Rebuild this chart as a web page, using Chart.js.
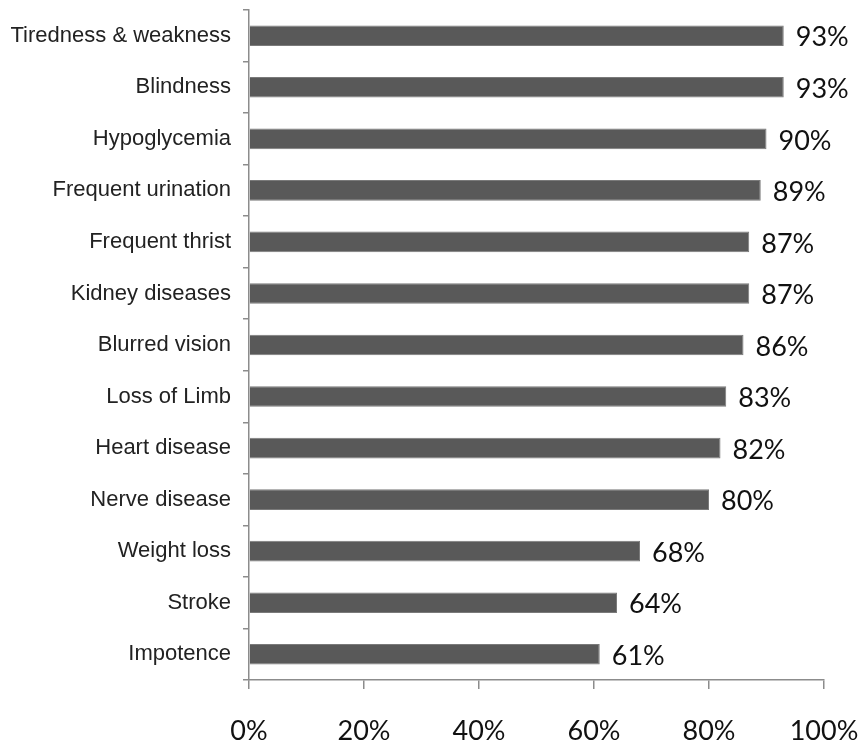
<!DOCTYPE html>
<html>
<head>
<meta charset="utf-8">
<script src="https://cdn.jsdelivr.net/npm/chart.js@4.4.0/dist/chart.umd.min.js"></script>
<style>
  html, body { margin: 0; padding: 0; background: #fff; }
  #wrap { width: 863px; height: 745px; }
</style>
</head>
<body>
<div id="wrap"><canvas id="chart"></canvas></div>
<script>
const categories = [
  "Tiredness & weakness", "Blindness", "Hypoglycemia", "Frequent urination",
  "Frequent thrist", "Kidney diseases", "Blurred vision", "Loss of Limb",
  "Heart disease", "Nerve disease", "Weight loss", "Stroke", "Impotence"
];
const percents = [93, 93, 90, 89, 87, 87, 86, 83, 82, 80, 68, 64, 61];
const xTicks = [0, 20, 40, 60, 80, 100];

// draw the value labels at the bar ends
const valueLabels = {
  id: "valueLabels",
  afterDatasetsDraw(chart) {
    const ctx = chart.ctx;
    const meta = chart.getDatasetMeta(0);
    ctx.save();
    ctx.font = "27px Lato, 'Open Sans', sans-serif";
    ctx.fillStyle = "#111";
    ctx.textBaseline = "middle";
    meta.data.forEach((bar, i) => {
      ctx.fillText(percents[i] + "%", bar.x + 12, bar.y + 2);
    });
    ctx.restore();
  }
};

new Chart(document.getElementById("chart"), {
  type: "bar",
  data: {
    labels: categories,
    datasets: [{
      data: percents,
      backgroundColor: "#595959",
      borderColor: "#7a7a7a",
      borderWidth: 1,
      barPercentage: 0.4,
      categoryPercentage: 1
    }]
  },
  options: {
    indexAxis: "y",
    responsive: true,
    maintainAspectRatio: false,
    animation: false,
    layout: { padding: { top: 10, right: 39, bottom: 0, left: 0 } },
    plugins: { legend: { display: false }, tooltip: { enabled: false } },
    scales: {
      x: {
        min: 0,
        max: 100,
        afterBuildTicks(axis) {
          axis.ticks = xTicks.map(v => ({ value: v }));
        },
        afterFit(axis) {
          axis.height = 65;
          axis.paddingLeft = 0;
          axis.paddingRight = 0;
        },
        border: { color: "#8c8c8c", width: 1.5 },
        grid: { drawOnChartArea: false, drawTicks: true, tickLength: 9, color: "#8c8c8c", lineWidth: 1.5 },
        ticks: {
          font: { family: "Lato, 'Open Sans', sans-serif", size: 27 },
          color: "#111",
          padding: 26,
          maxRotation: 0,
          autoSkip: false,
          callback: v => v + "%"
        }
      },
      y: {
        afterFit(axis) {
          axis.width = 249;
          axis.paddingTop = 0;
          axis.paddingBottom = 0;
        },
        border: { color: "#8c8c8c", width: 1.5 },
        grid: { drawOnChartArea: false, drawTicks: true, tickLength: 6, offset: true, color: "#8c8c8c", lineWidth: 1.5 },
        ticks: {
          font: { family: "'Liberation Sans', Arial, sans-serif", size: 22 },
          color: "#222",
          padding: 12
        }
      }
    }
  },
  plugins: [valueLabels]
});
</script>
</body>
</html>
